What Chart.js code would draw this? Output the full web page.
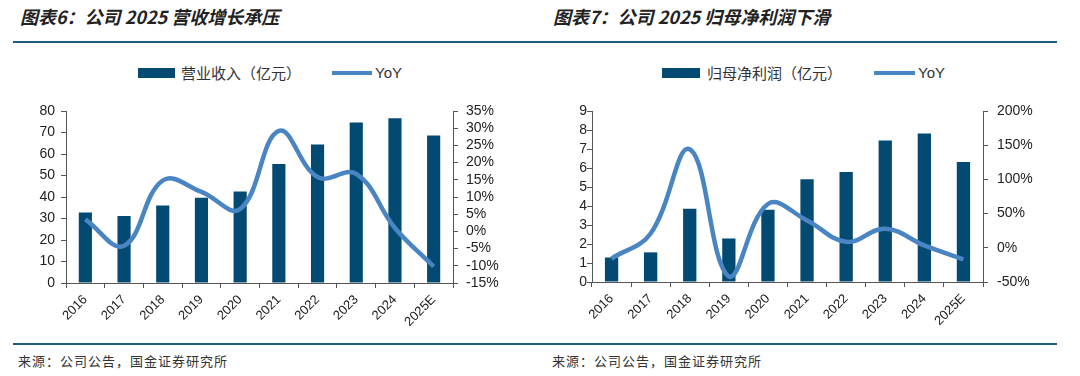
<!DOCTYPE html>
<html>
<head>
<meta charset="utf-8">
<script src="https://cdn.jsdelivr.net/npm/chart.js@4.4.1/dist/chart.umd.min.js"></script>
<style>
  body { margin: 0; width: 1080px; height: 376px; background: #fff; position: relative; overflow: hidden; font-family: "Noto Sans CJK SC", sans-serif; }
  .tittle { position: absolute; top: 3px; font-size: 18px; font-weight: bold; font-style: italic; color: #222; white-space: nowrap; }
  .rule { position: absolute; left: 13px; width: 1044px; height: 2px; background: #1d5a7e; }
  .source { position: absolute; top: 351px; font-size: 13px; color: #333; letter-spacing: 1px; white-space: nowrap; }
  .legend { position: absolute; top: 63px; height: 20px; font-size: 15px; color: #333; white-space: nowrap; }
  .legend span { position: absolute; top: 0; line-height: 20px; }
  .sw { position: absolute; }
  .box { position: absolute; }
</style>
</head>
<body>

<div class="tittle" style="left:20px">图表6：公司 2025 营收增长承压</div>
<div class="tittle" style="left:553px">图表7：公司 2025 归母净利润下滑</div>
<div class="rule" style="top:41px"></div>

<!-- leyendas -->
<div class="legend" style="left:0;width:540px">
  <div class="sw" style="left:138px;top:5px;width:37px;height:10px;background:#034a72"></div>
  <span style="left:181px">营业收入（亿元）</span>
  <div class="sw" style="left:332px;top:8px;width:40px;height:4px;background:#4a85c3"></div>
  <span style="left:375px;font-family:'Liberation Sans'">YoY</span>
</div>
<div class="legend" style="left:540px;width:540px">
  <div class="sw" style="left:122px;top:5px;width:38px;height:10px;background:#034a72"></div>
  <span style="left:167px">归母净利润（亿元）</span>
  <div class="sw" style="left:334px;top:8px;width:41px;height:4px;background:#4a85c3"></div>
  <span style="left:378px;font-family:'Liberation Sans'">YoY</span>
</div>

<div class="box" style="left:0;top:100px;width:540px;height:236px"><canvas id="chartRev" width="540" height="236"></canvas></div>
<div class="box" style="left:540px;top:100px;width:540px;height:236px"><canvas id="chartProfit" width="540" height="236"></canvas></div>

<div class="rule" style="top:343px"></div>
<div class="source" style="left:18px">来源：公司公告，国金证券研究所</div>
<div class="source" style="left:552px">来源：公司公告，国金证券研究所</div>

<script>
// Datos
const years = ['2016', '2017', '2018', '2019', '2020', '2021', '2022', '2023', '2024', '2025E'];
const revenue = [32.8, 31.2, 36.0, 39.7, 42.6, 55.4, 64.4, 74.7, 76.6, 68.6];      // 营业收入（亿元）
const revenueYoY = [3.5, -4.2, 14.8, 11.5, 6.5, 29.2, 15.8, 16.7, 1.0, -10.2];   // %
const profit = [1.29, 1.56, 3.86, 2.29, 3.80, 5.41, 5.79, 7.45, 7.82, 6.32];       // 归母净利润（亿元）
const profitYoY = [-15.7, 21, 144, -42, 64, 40, 8.7, 28, 3.5, -17];                // %

const revTicks = { min: 0, max: 80, step: 10 };
const revYoyTicks = { min: -15, max: 35, step: 5 };
const profTicks = { min: 0, max: 9, step: 1 };
const profYoyTicks = { min: -50, max: 200, step: 50 };

const barColor = '#034a72';
const lineColor = '#4a85c3';
const axisColor = '#555';
const tickFont = { family: 'Liberation Sans', size: 14 };
const xFont = { family: 'Liberation Sans', size: 13 };

// ancho fijo del eje, sin el relleno automatico
function fixY(width) {
    return s => { s.width = width; s.paddingTop = 0; s.paddingBottom = 0; };
}

function makeChart(id, bars, yoy, leftT, rightT, sizes) {
    const ctx = document.getElementById(id).getContext('2d');
    return new Chart(ctx, {
        data: {
            labels: years,
            datasets: [
                {
                    type: 'line',
                    data: yoy,
                    yAxisID: 'y1',
                    borderColor: lineColor,
                    backgroundColor: lineColor,
                    borderWidth: 4.5,
                    pointRadius: 0,
                    tension: 0.4,
                    clip: false,
                    order: 0
                },
                {
                    type: 'bar',
                    data: bars,
                    yAxisID: 'y',
                    backgroundColor: barColor,
                    borderWidth: 0,
                    barPercentage: 0.34,
                    categoryPercentage: 1,
                    order: 1
                }
            ]
        },
        options: {
            responsive: false,
            animation: false,
            layout: { padding: { top: sizes.top, left: 0, right: 0, bottom: 0 } },
            plugins: { legend: { display: false }, tooltip: { enabled: false } },
            scales: {
                x: {
                    grid: { offset: true, drawOnChartArea: false, tickLength: 5, color: axisColor },
                    border: { color: axisColor },
                    ticks: { maxRotation: 45, minRotation: 45, autoSkip: false, font: xFont, color: '#222', padding: 4 },
                    afterFit: s => { s.height = sizes.bottom; s.paddingLeft = 0; s.paddingRight = 0; }
                },
                y: {
                    position: 'left',
                    min: leftT.min, max: leftT.max,
                    grid: { drawOnChartArea: false, tickLength: 5, color: axisColor },
                    border: { color: axisColor },
                    ticks: { stepSize: leftT.step, autoSkip: false, font: tickFont, color: '#222', padding: sizes.padL },
                    afterFit: fixY(sizes.left)
                },
                y1: {
                    position: 'right',
                    min: rightT.min, max: rightT.max,
                    grid: { drawOnChartArea: false, tickLength: 5, color: axisColor },
                    border: { color: axisColor },
                    ticks: { stepSize: rightT.step, autoSkip: false, font: tickFont, color: '#222', padding: sizes.padR, callback: v => v + '%' },
                    afterFit: fixY(sizes.right)
                }
            }
        }
    });
}

makeChart('chartRev', revenue, revenueYoY, revTicks, revYoyTicks, { top: 11, left: 66, right: 87, bottom: 53, padL: 6, padR: 8 });
makeChart('chartProfit', profit, profitYoY, profTicks, profYoyTicks, { top: 11, left: 52, right: 97, bottom: 54, padL: 0, padR: 9 });
</script>
</body>
</html>
